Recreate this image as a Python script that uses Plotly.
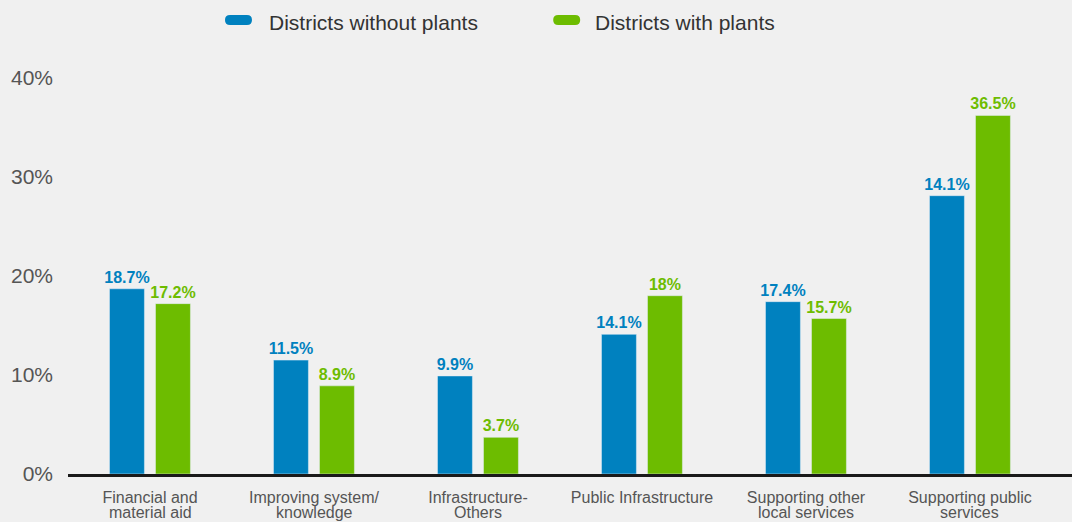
import plotly.graph_objects as go

# ---- data ----
categories = ["Financial and material aid", "Improving system/ knowledge", "Infrastructure-Others",
              "Public Infrastructure", "Supporting other local services", "Supporting public services"]
tick_line1 = ["Financial and", "Improving system/", "Infrastructure-", "Public Infrastructure",
              "Supporting other", "Supporting public"]
tick_line2 = ["material aid", "knowledge", "Others", "", "local services", "services"]
without_values = [18.7, 11.5, 9.9, 14.1, 17.4, 28.1]
without_labels = ["18.7%", "11.5%", "9.9%", "14.1%", "17.4%", "14.1%"]
with_values = [17.2, 8.9, 3.7, 18.0, 15.7, 36.2]
with_labels = ["17.2%", "8.9%", "3.7%", "18%", "15.7%", "36.5%"]
series_names = ["Districts without plants", "Districts with plants"]
y_ticks = [0, 10, 20, 30, 40]
y_tick_text = ["0%", "10%", "20%", "30%", "40%"]

BLUE = "#0081BF"
GREEN = "#6DBC00"
BG = "#F0F0F0"
FONT = "Liberation Sans, Arial, Helvetica, sans-serif"

x_idx = list(range(len(categories)))

fig = go.Figure()
fig.add_trace(go.Bar(
    x=x_idx, y=without_values, name=series_names[0], marker_color=BLUE,
    width=0.213, offset=-0.247, text=without_labels, textposition="outside",
    textfont=dict(color=BLUE, size=16, family=FONT, weight="bold"), constraintext="none",
    cliponaxis=False, showlegend=False,
))
fig.add_trace(go.Bar(
    x=x_idx, y=with_values, name=series_names[1], marker_color=GREEN,
    width=0.213, offset=0.0335, text=with_labels, textposition="outside",
    textfont=dict(color=GREEN, size=16, family=FONT, weight="bold"), constraintext="none",
    cliponaxis=False, showlegend=False,
))

xr = [-0.5, 5.622]
fig.update_layout(
    width=1072, height=522,
    margin=dict(l=68, r=0, t=58, b=48),
    paper_bgcolor=BG, plot_bgcolor=BG,
    font=dict(family=FONT, color="#555555"),
    barmode="overlay",
    showlegend=False,
    xaxis=dict(
        type="linear", range=xr, tickmode="array", tickvals=x_idx, ticktext=tick_line1,
        showgrid=False, zeroline=False, showline=True, linecolor="#1a1a1a", linewidth=3,
        ticks="", tickfont=dict(size=16, color="#555555"), ticklabelstandoff=7,
    ),
    yaxis=dict(
        range=[0, 42], tickmode="array", tickvals=y_ticks, ticktext=y_tick_text,
        showgrid=False, zeroline=False, showline=False, ticks="",
        tickfont=dict(size=21, color="#555555"), ticklabelstandoff=14,
    ),
)

# second line of the category labels
for i, t in zip(x_idx, tick_line2):
    if t:
        fig.add_annotation(x=i, y=0, xref="x", yref="y", text=t, showarrow=False,
                           yanchor="top", xanchor="center", yshift=-28,
                           font=dict(size=16, color="#555555", family=FONT))

# custom legend (pill markers + text)
pill = ("M -8.5,-5 L 8.5,-5 Q 13.5,-5 13.5,0 Q 13.5,5 8.5,5 L -8.5,5 "
        "Q -13.5,5 -13.5,0 Q -13.5,-5 -8.5,-5 Z")
for xa, col in [(0.1698, BLUE), (0.4967, GREEN)]:
    fig.add_shape(type="path", path=pill, xref="paper", yref="paper",
                  xsizemode="pixel", ysizemode="pixel", xanchor=xa, yanchor=1.0913,
                  fillcolor=col, line=dict(width=0))
for xt, name in [(0.1982, series_names[0]), (0.5229, series_names[1])]:
    fig.add_annotation(x=xt, y=1.0865, xref="paper", yref="paper", text=name,
                       showarrow=False, xanchor="left", yanchor="middle",
                       font=dict(size=21, color="#333333", family=FONT))

fig.write_html("out.html", post_script="document.body.style.margin='0';",
               config={"displayModeBar": False})
